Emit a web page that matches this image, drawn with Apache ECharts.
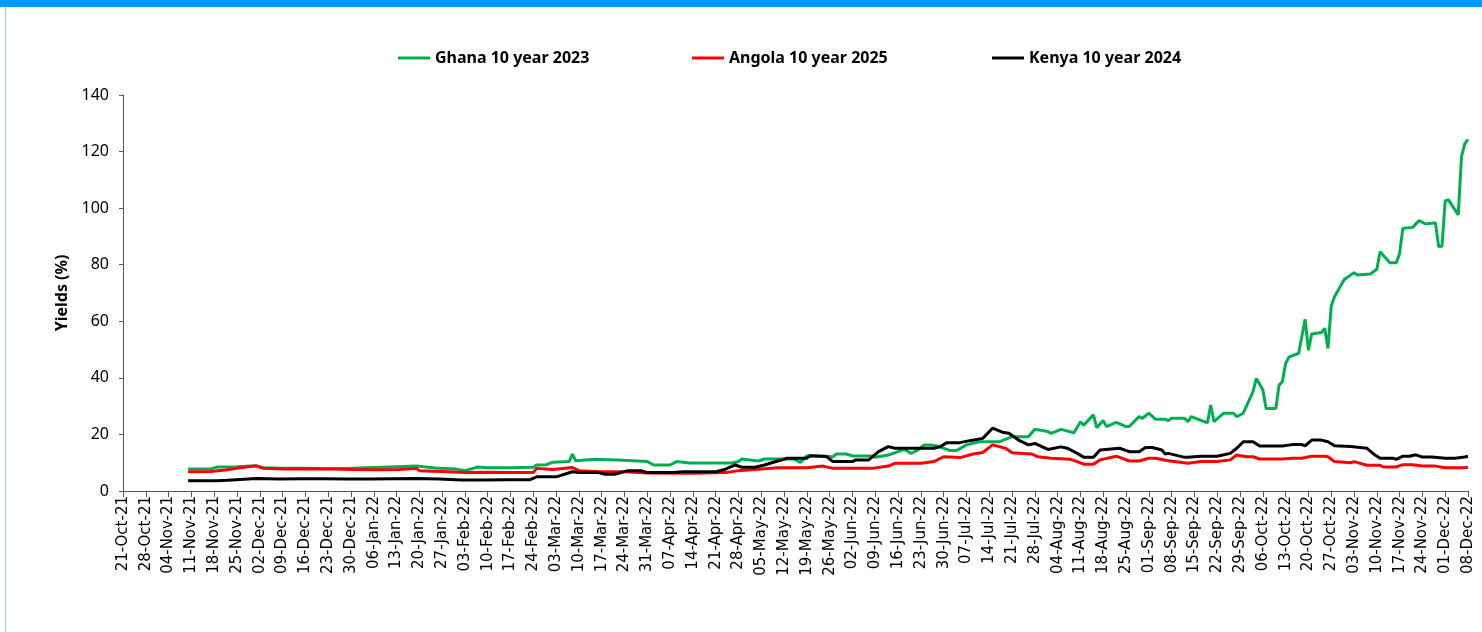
<!DOCTYPE html>
<html>
<head>
<meta charset="utf-8">
<script src="https://cdn.jsdelivr.net/npm/echarts@6/dist/echarts.min.js"></script>
<style>
html,body{margin:0;padding:0;background:#fff;}
#topbar{position:absolute;left:0;top:0;width:1482px;height:7px;background:#0099FF;}
#leftline{position:absolute;left:5px;top:7px;width:1px;height:625px;background:#8FD0FF;}
#chart{position:absolute;left:0;top:0;width:1482px;height:632px;}
</style>
</head>
<body>
<div id="chart"></div>
<div id="topbar"></div>
<div id="leftline"></div>
<script>
const seriesNames = ['Ghana 10 year 2023', 'Angola 10 year 2025', 'Kenya 10 year 2024'];
const yTicks = [0, 20, 40, 60, 80, 100, 120, 140];
const monthNames = ['Jan','Feb','Mar','Apr','May','Jun','Jul','Aug','Sep','Oct','Nov','Dec'];
const axisStart = '2021-10-21';
const axisEnd = '2022-12-08';

const ghanaDates = ['2021-11-10','2021-11-17','2021-11-19','2021-11-25','2021-12-01','2021-12-03','2021-12-09','2021-12-16','2021-12-23','2021-12-30','2022-01-06','2022-01-13','2022-01-19','2022-01-25','2022-01-31','2022-02-03','2022-02-07','2022-02-10','2022-02-17','2022-02-24','2022-02-25','2022-02-28','2022-03-02','2022-03-07','2022-03-08','2022-03-09','2022-03-15','2022-03-22','2022-03-31','2022-04-02','2022-04-07','2022-04-09','2022-04-13','2022-04-26','2022-04-28','2022-04-29','2022-05-04','2022-05-06','2022-05-15','2022-05-17','2022-05-19','2022-05-23','2022-05-27','2022-05-28','2022-05-31','2022-06-02','2022-06-08','2022-06-09','2022-06-13','2022-06-16','2022-06-18','2022-06-20','2022-06-22','2022-06-24','2022-06-26','2022-06-28','2022-07-02','2022-07-04','2022-07-07','2022-07-11','2022-07-17','2022-07-21','2022-07-26','2022-07-28','2022-08-01','2022-08-02','2022-08-05','2022-08-09','2022-08-11','2022-08-12','2022-08-15','2022-08-16','2022-08-18','2022-08-19','2022-08-22','2022-08-25','2022-08-26','2022-08-29','2022-08-30','2022-09-01','2022-09-03','2022-09-06','2022-09-07','2022-09-08','2022-09-12','2022-09-13','2022-09-14','2022-09-19','2022-09-20','2022-09-21','2022-09-24','2022-09-27','2022-09-28','2022-09-30','2022-10-03','2022-10-04','2022-10-06','2022-10-07','2022-10-10','2022-10-11','2022-10-12','2022-10-13','2022-10-14','2022-10-17','2022-10-19','2022-10-20','2022-10-21','2022-10-24','2022-10-25','2022-10-26','2022-10-27','2022-10-28','2022-10-31','2022-11-03','2022-11-04','2022-11-08','2022-11-10','2022-11-11','2022-11-14','2022-11-16','2022-11-17','2022-11-18','2022-11-21','2022-11-23','2022-11-25','2022-11-28','2022-11-29','2022-11-30','2022-12-01','2022-12-02','2022-12-05','2022-12-06','2022-12-07','2022-12-08'];
const ghanaYields = [7.8,7.8,8.5,8.6,8.9,8.2,8.0,8.0,7.9,8.0,8.3,8.6,8.8,8.1,7.8,7.2,8.5,8.2,8.2,8.4,9.2,9.3,10.2,10.4,13.0,10.7,11.2,11.0,10.4,9.2,9.2,10.4,9.9,9.9,10.4,11.3,10.6,11.3,11.3,10.1,12.4,12.4,12.1,13.1,13.1,12.4,12.4,11.9,12.7,13.9,14.7,13.3,14.4,16.3,16.3,15.9,14.3,14.3,16.3,17.4,17.4,19.2,19.2,21.8,21.0,20.4,21.8,20.6,24.5,23.3,26.9,22.4,24.9,22.8,24.3,22.8,22.8,26.3,25.7,27.5,25.4,25.4,24.9,25.7,25.7,24.5,26.3,24.1,30.4,24.5,27.5,27.5,26.3,27.5,35.1,39.8,35.8,29.2,29.2,37.5,38.6,45.1,47.3,48.7,60.7,49.8,55.5,56.0,57.5,50.4,65.4,68.7,74.8,77.2,76.4,76.7,78.4,84.6,80.7,80.7,84.0,92.9,93.2,95.6,94.4,94.8,86.4,86.5,102.6,102.9,97.6,118.2,122.7,124.3];

const angolaDates = ['2021-11-10','2021-11-17','2021-11-22','2021-11-26','2021-12-01','2021-12-03','2021-12-10','2021-12-17','2021-12-24','2021-12-31','2022-01-07','2022-01-14','2022-01-19','2022-01-20','2022-01-27','2022-02-03','2022-02-10','2022-02-17','2022-02-24','2022-02-25','2022-03-02','2022-03-08','2022-03-10','2022-03-17','2022-03-24','2022-03-31','2022-04-14','2022-04-24','2022-04-28','2022-05-04','2022-05-10','2022-05-19','2022-05-24','2022-05-27','2022-06-08','2022-06-13','2022-06-15','2022-06-23','2022-06-27','2022-06-30','2022-07-05','2022-07-09','2022-07-12','2022-07-15','2022-07-19','2022-07-21','2022-07-27','2022-07-29','2022-08-02','2022-08-08','2022-08-10','2022-08-12','2022-08-15','2022-08-17','2022-08-22','2022-08-26','2022-08-29','2022-09-01','2022-09-03','2022-09-07','2022-09-13','2022-09-17','2022-09-22','2022-09-26','2022-09-28','2022-10-01','2022-10-03','2022-10-05','2022-10-12','2022-10-15','2022-10-18','2022-10-21','2022-10-25','2022-10-26','2022-10-28','2022-11-02','2022-11-03','2022-11-07','2022-11-11','2022-11-12','2022-11-16','2022-11-18','2022-11-21','2022-11-24','2022-11-28','2022-12-01','2022-12-07','2022-12-08'];
const angolaYields = [6.8,6.9,7.5,8.2,8.9,8.0,7.8,7.9,7.8,7.6,7.5,7.6,8.0,7.2,6.9,6.5,6.6,6.5,6.5,8.0,7.6,8.3,7.2,6.8,6.8,6.4,6.3,6.5,7.2,7.7,8.2,8.2,8.8,8.0,8.0,8.8,9.8,9.8,10.4,12.1,11.8,13.1,13.6,16.3,15.1,13.5,13.1,12.1,11.6,11.2,10.4,9.5,9.5,11.0,12.3,10.6,10.6,11.6,11.6,10.7,9.8,10.4,10.4,11.0,12.7,12.1,12.1,11.3,11.3,11.6,11.6,12.3,12.3,12.1,10.4,10.0,10.4,9.1,9.1,8.5,8.5,9.3,9.3,8.8,8.8,8.2,8.2,8.4];

const kenyaDates = ['2021-11-10','2021-11-19','2021-11-22','2021-11-26','2021-12-01','2021-12-08','2021-12-15','2021-12-22','2021-12-29','2022-01-05','2022-01-12','2022-01-19','2022-01-26','2022-02-02','2022-02-09','2022-02-16','2022-02-23','2022-02-25','2022-03-03','2022-03-08','2022-03-10','2022-03-16','2022-03-18','2022-03-21','2022-03-25','2022-03-29','2022-03-31','2022-04-08','2022-04-11','2022-04-21','2022-04-24','2022-04-27','2022-04-29','2022-05-03','2022-05-06','2022-05-10','2022-05-13','2022-05-19','2022-05-20','2022-05-25','2022-05-27','2022-06-02','2022-06-03','2022-06-07','2022-06-10','2022-06-13','2022-06-15','2022-06-27','2022-06-29','2022-07-01','2022-07-05','2022-07-08','2022-07-12','2022-07-15','2022-07-18','2022-07-20','2022-07-23','2022-07-26','2022-07-28','2022-08-01','2022-08-05','2022-08-07','2022-08-10','2022-08-12','2022-08-15','2022-08-17','2022-08-23','2022-08-26','2022-08-29','2022-08-31','2022-09-02','2022-09-05','2022-09-06','2022-09-07','2022-09-12','2022-09-13','2022-09-17','2022-09-22','2022-09-26','2022-09-28','2022-09-30','2022-10-03','2022-10-05','2022-10-12','2022-10-15','2022-10-18','2022-10-19','2022-10-21','2022-10-24','2022-10-26','2022-10-28','2022-11-02','2022-11-07','2022-11-09','2022-11-11','2022-11-15','2022-11-16','2022-11-18','2022-11-20','2022-11-22','2022-11-24','2022-11-27','2022-12-01','2022-12-04','2022-12-07','2022-12-08'];
const kenyaYields = [3.6,3.6,3.8,4.1,4.4,4.2,4.3,4.3,4.2,4.2,4.3,4.4,4.2,3.9,3.9,4.0,4.0,5.0,5.0,6.8,6.5,6.5,5.9,5.9,7.2,7.2,6.5,6.5,6.8,6.8,7.7,9.2,8.4,8.4,9.2,10.6,11.6,11.6,12.5,12.2,10.4,10.4,11.0,11.0,13.9,15.7,15.1,15.1,15.7,17.1,17.1,17.8,18.6,22.2,20.8,20.4,18.0,16.3,16.8,14.7,15.6,15.1,13.3,11.9,11.9,14.5,15.1,13.9,13.9,15.4,15.4,14.5,13.1,13.3,11.9,11.9,12.3,12.3,13.3,15.1,17.4,17.4,15.9,15.9,16.4,16.4,16.0,18.0,18.0,17.4,16.0,15.7,15.1,13.1,11.6,11.6,11.2,12.3,12.3,12.8,12.0,12.0,11.6,11.6,12.0,12.3];

const colors = ['#00B050', '#FF0000', '#000000'];

function ts(s) { const p = s.split('-'); return Date.UTC(+p[0], +p[1] - 1, +p[2]); }
function pairs(dates, vals) { return dates.map((d, i) => [ts(d), vals[i]]); }
function fmtDate(v) {
  const d = new Date(v);
  const dd = String(d.getUTCDate()).padStart(2, '0');
  const yy = String(d.getUTCFullYear() % 100).padStart(2, '0');
  return dd + '-' + monthNames[d.getUTCMonth()] + '-' + yy;
}

const WEEK = 7 * 86400000;
const narrowFont = 'Noto Sans, sans-serif';
const legendFont = { fontFamily: narrowFont, fontWeight: 'bold', fontSize: 16, color: '#000' };
const legendLefts = [398, 692, 992];

const chart = echarts.init(document.getElementById('chart'), null, { renderer: 'canvas' });
chart.setOption({
  animation: false,
  backgroundColor: '#fff',
  legend: seriesNames.map((n, i) => ({
    data: [n], left: legendLefts[i], top: 50, padding: 0,
    icon: 'rect', itemWidth: 32, itemHeight: 3, itemGap: 4,
    textStyle: legendFont, selectedMode: false
  })),
  grid: { left: 123, right: 14, top: 95, bottom: 141, containLabel: false },
  xAxis: {
    type: 'value',
    min: ts(axisStart), max: ts(axisEnd), interval: WEEK,
    axisLine: { lineStyle: { color: '#595959', width: 1 } },
    axisTick: { show: true, length: 6, lineStyle: { color: '#595959' } },
    splitLine: { show: false },
    axisLabel: {
      rotate: 90, margin: 5, formatter: fmtDate,
      fontFamily: 'DejaVu Sans', fontSize: 15, color: '#000'
    }
  },
  yAxis: {
    type: 'value', min: yTicks[0], max: yTicks[yTicks.length - 1], interval: 20,
    name: 'Yields (%)', nameLocation: 'middle', nameGap: 45,
    nameTextStyle: { fontFamily: narrowFont, fontWeight: 'bold', fontSize: 16, color: '#000' },
    axisLine: { show: true, lineStyle: { color: '#595959', width: 1 } },
    axisTick: { show: true, length: 4, lineStyle: { color: '#595959' } },
    splitLine: { show: false },
    axisLabel: { margin: 14, fontFamily: narrowFont, fontSize: 16, color: '#000' }
  },
  series: [
    { name: seriesNames[0], type: 'line', data: pairs(ghanaDates, ghanaYields), showSymbol: false, symbol: 'none', lineStyle: { color: colors[0], width: 3 }, itemStyle: { color: colors[0] } },
    { name: seriesNames[1], type: 'line', data: pairs(angolaDates, angolaYields), showSymbol: false, symbol: 'none', lineStyle: { color: colors[1], width: 3 }, itemStyle: { color: colors[1] } },
    { name: seriesNames[2], type: 'line', data: pairs(kenyaDates, kenyaYields), showSymbol: false, symbol: 'none', lineStyle: { color: colors[2], width: 3 }, itemStyle: { color: colors[2] } }
  ]
});
</script>
</body>
</html>
